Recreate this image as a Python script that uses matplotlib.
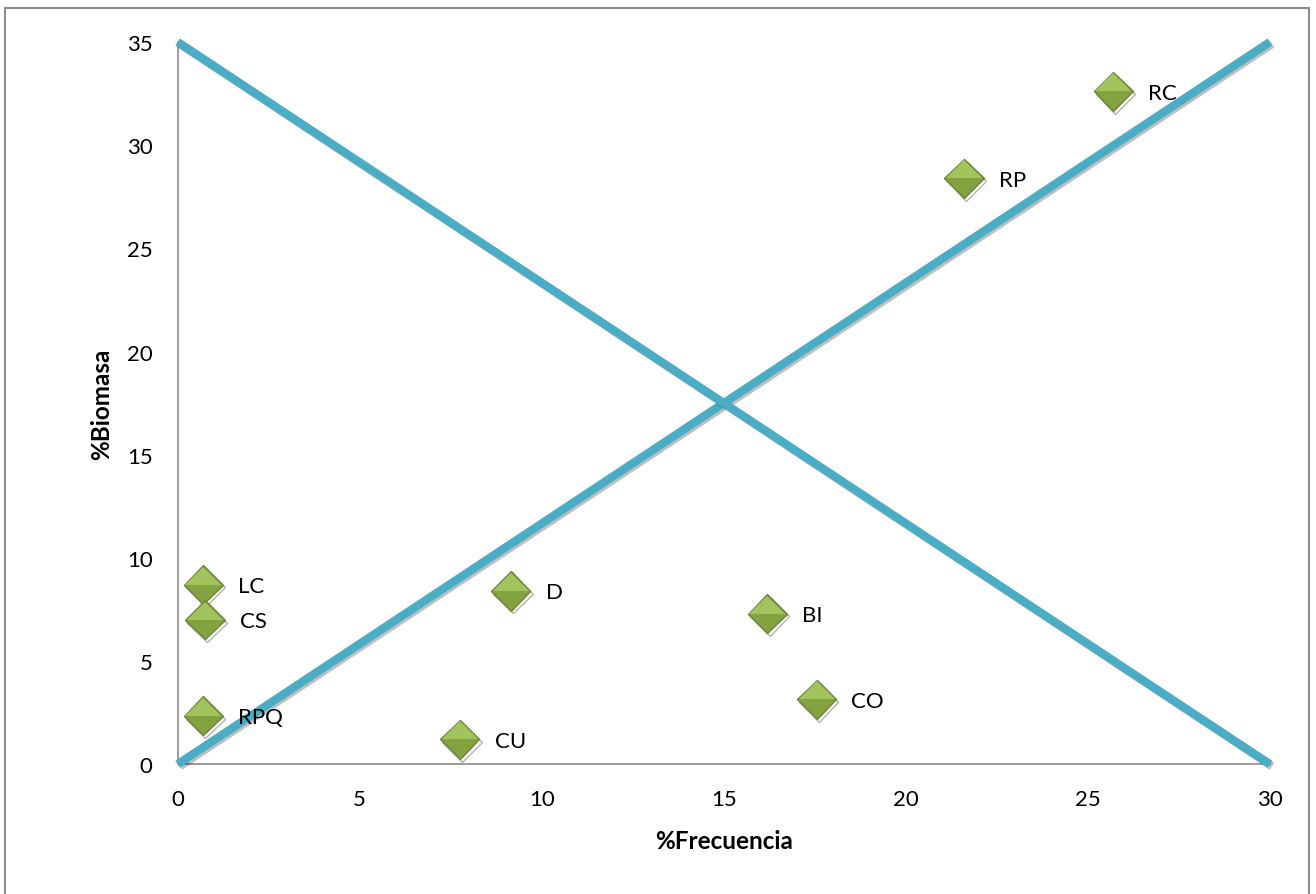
import matplotlib
matplotlib.use('Agg')
import matplotlib.pyplot as plt
import matplotlib.patheffects as pe
from matplotlib.patches import Rectangle

# puntos (%Frecuencia, %Biomasa)
labels = ['RC', 'RP', 'LC', 'CS', 'RPQ', 'D', 'BI', 'CO', 'CU']
frecuencia = [25.7, 21.6, 0.7, 0.75, 0.7, 9.15, 16.2, 17.55, 7.75]
biomasa = [32.6, 28.4, 8.7, 7.0, 2.35, 8.4, 7.3, 3.15, 1.2]

# lineas de referencia (diagonales)
line1_x = [0, 30]
line1_y = [0, 35]
line2_x = [0, 30]
line2_y = [35, 0]

xticks = [0, 5, 10, 15, 20, 25, 30]
yticks = [0, 5, 10, 15, 20, 25, 30, 35]

plt.rcParams['font.family'] = ['Lato', 'DejaVu Sans']

fig = plt.figure(figsize=(13.16, 8.95), dpi=100)
fig.patches.append(Rectangle((5 / 1316, -0.05), 1304 / 1316, 1 - 9 / 895 + 0.05,
                             transform=fig.transFigure, fill=False,
                             edgecolor='#8c8c8c', linewidth=1.5))
ax = fig.add_axes([0.135, 0.145, 0.83, 0.807])

shadow = [pe.SimpleLineShadow(offset=(1.5, -1.5), shadow_color='k', alpha=0.25), pe.Normal()]
ax.plot(line1_x, line1_y, color='#4BACC6', linewidth=6, solid_capstyle='butt',
        path_effects=shadow, clip_on=False, zorder=3)
ax.plot(line2_x, line2_y, color='#4BACC6', linewidth=6, solid_capstyle='butt',
        path_effects=shadow, clip_on=False, zorder=3)

# rombo: base oscura + mitad superior clara sin borde
ax.plot(frecuencia, biomasa, linestyle='none', marker='D', markersize=20,
        markerfacecolor='#82a340', markeredgecolor='#6a853a', markeredgewidth=1,
        clip_on=False, zorder=4,
        path_effects=[pe.SimpleLineShadow(offset=(1.5, -2), alpha=0.3), pe.Normal()])
ax.plot(frecuencia, biomasa, linestyle='none', marker='D', markersize=18,
        fillstyle='top', markerfacecolor='#a2c45c', markeredgewidth=0,
        clip_on=False, zorder=4.5)

for x, y, t in zip(frecuencia, biomasa, labels):
    ax.annotate(t, (x, y), xytext=(25, -1), textcoords='offset points',
                va='center', ha='left', fontsize=16, zorder=5)

ax.set_xlim(0, 30)
ax.set_ylim(0, 35)
ax.set_xticks(xticks)
ax.set_yticks(yticks)
ax.tick_params(length=0, labelsize=16)
ax.tick_params(axis='x', pad=18)
ax.tick_params(axis='y', pad=18)
for s in ['top', 'right']:
    ax.spines[s].set_visible(False)
for s in ['left', 'bottom']:
    ax.spines[s].set_color('#8c8c8c')
    ax.spines[s].set_linewidth(1.2)

ax.set_xlabel('%Frecuencia', fontsize=17.5, fontweight='bold', labelpad=14)
ax.set_ylabel('%Biomasa', fontsize=17.5, fontweight='bold', labelpad=10)

plt.savefig('out.png', dpi=100)
